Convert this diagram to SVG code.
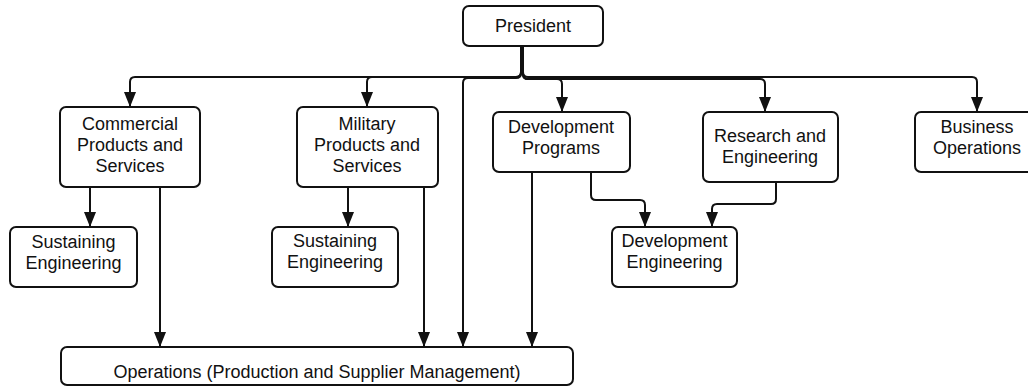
<svg xmlns="http://www.w3.org/2000/svg" width="1028" height="387" viewBox="0 0 1028 387">
<style>
.box{fill:#fff;stroke:#111;stroke-width:2}
.t{font-family:"Liberation Sans",Arial,sans-serif;font-size:18px;fill:#111;text-anchor:middle}
.c{fill:none;stroke:#111;stroke-width:2}
</style>
<defs>
<marker id="ah" markerUnits="userSpaceOnUse" markerWidth="16" markerHeight="13" refX="15" refY="6" orient="auto">
<path d="M0,0 L15,6 L0,12 z" fill="#111"/>
</marker>
</defs>
<rect width="1028" height="387" fill="#fff"/>
<g id="connectors">
<path class="c" d="M521,46 V72 Q521,77 516,77 H135 Q130,77 130,82 V107" marker-end="url(#ah)"/>
<path class="c" d="M521,46 V72 Q521,77 516,77 H372 Q367,77 367,82 V107" marker-end="url(#ah)"/>
<path class="c" d="M521,46 V73 Q521,78 516,78 H468 Q463,78 463,83 V347" marker-end="url(#ah)"/>
<path class="c" d="M523,46 V74 Q523,79 528,79 H557 Q562,79 562,84 V112" marker-end="url(#ah)"/>
<path class="c" d="M523,46 V74 Q523,79 528,79 H760 Q765,79 765,84 V112" marker-end="url(#ah)"/>
<path class="c" d="M523,46 V72 Q523,77 528,77 H972 Q977,77 977,82 V112" marker-end="url(#ah)"/>
<path class="c" d="M90,187 V227" marker-end="url(#ah)"/>
<path class="c" d="M160,187 V347" marker-end="url(#ah)"/>
<path class="c" d="M348,187 V227" marker-end="url(#ah)"/>
<path class="c" d="M424,187 V347" marker-end="url(#ah)"/>
<path class="c" d="M532,172 V347" marker-end="url(#ah)"/>
<path class="c" d="M591,172 V195 Q591,200 596,200 H640 Q645,200 645,205 V227" marker-end="url(#ah)"/>
<path class="c" d="M776,182 V199 Q776,204 771,204 H717 Q712,204 712,209 V227" marker-end="url(#ah)"/>
</g>
<g id="president">
<rect class="box" x="463" y="6" width="140" height="40" rx="6"/>
<text class="t" x="533" y="32">President</text>
</g>
<g id="commercial">
<rect class="box" x="60" y="107" width="140" height="80" rx="6"/>
<text class="t" x="130" y="130">Commercial</text>
<text class="t" x="130" y="151">Products and</text>
<text class="t" x="130" y="172">Services</text>
</g>
<g id="military">
<rect class="box" x="297" y="107" width="141" height="80" rx="6"/>
<text class="t" x="367" y="130">Military</text>
<text class="t" x="367" y="151">Products and</text>
<text class="t" x="367" y="172">Services</text>
</g>
<g id="devprograms">
<rect class="box" x="493" y="112" width="137" height="60" rx="6"/>
<text class="t" x="561" y="133">Development</text>
<text class="t" x="561" y="154">Programs</text>
</g>
<g id="research">
<rect class="box" x="703" y="112" width="135" height="70" rx="6"/>
<text class="t" x="770" y="142">Research and</text>
<text class="t" x="770" y="163">Engineering</text>
</g>
<g id="business">
<rect class="box" x="915" y="112" width="124" height="60" rx="6"/>
<text class="t" x="977" y="133">Business</text>
<text class="t" x="977" y="154">Operations</text>
</g>
<g id="sustaining1">
<rect class="box" x="10" y="227" width="127" height="60" rx="6"/>
<text class="t" x="73.5" y="248">Sustaining</text>
<text class="t" x="73.5" y="269">Engineering</text>
</g>
<g id="sustaining2">
<rect class="box" x="272" y="227" width="126" height="60" rx="6"/>
<text class="t" x="335" y="247">Sustaining</text>
<text class="t" x="335" y="268">Engineering</text>
</g>
<g id="deveng">
<rect class="box" x="612" y="227" width="125" height="60" rx="6"/>
<text class="t" x="674.5" y="247">Development</text>
<text class="t" x="674.5" y="268">Engineering</text>
</g>
<g id="operations">
<rect class="box" x="61" y="347" width="512" height="38" rx="6"/>
<text class="t" x="317" y="378">Operations (Production and Supplier Management)</text>
</g>
</svg>
